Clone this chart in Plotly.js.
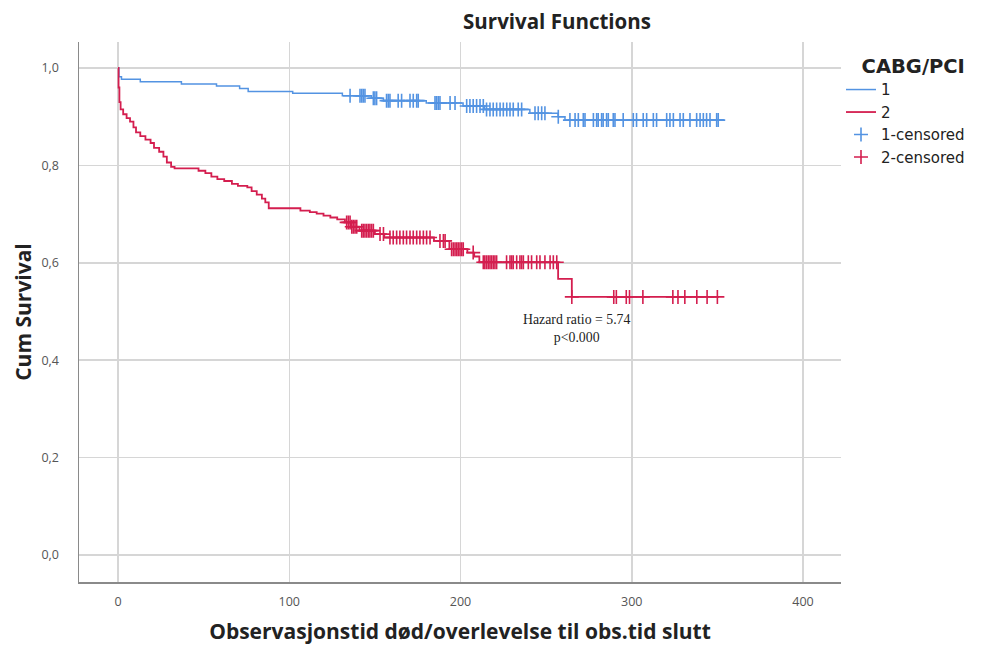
<!DOCTYPE html>
<html>
<head>
<meta charset="utf-8">
<script src="https://cdn.plot.ly/plotly-3.0.1.min.js"></script>
<style>html,body{margin:0;padding:0;background:#fff;}#chart{width:981px;height:648px;}</style>
</head>
<body>
<div id="chart"></div>
<script>
// Group 1 (CABG) Kaplan-Meier step curve
const g1Time = [0, 0.5, 2, 13, 37, 57.5, 71, 76, 102, 131, 148, 155, 180, 201.5, 214, 240.5, 257, 261, 354];
const g1Surv = [1.0, 0.982, 0.977, 0.972, 0.967, 0.963, 0.958, 0.952, 0.948, 0.943, 0.938, 0.933, 0.928, 0.922, 0.915, 0.907, 0.900, 0.893, 0.893];
// Group 1 censored times
const g1Cens = [135.5, 141.3, 142.3, 143.2, 144.2, 149.1, 150, 151, 156.8, 157.8, 158.8, 163.6, 165.6,
  170.5, 172.4, 174.4, 175.3, 185.1, 186, 187, 188, 193.9, 196.8, 203.6, 205.5, 207.4, 209.4, 211.4, 213.3,
  215.2, 217.2, 219.1, 221.1, 223.1, 225, 227, 228.9, 230.8, 233.7, 235.7, 243.5, 245.4, 247.4, 249.3, 257.1,
  263.9, 266.9, 268.8, 271.7, 272.7, 277.6, 279.5, 280.4, 282.4, 283.3, 285.3, 286.3, 289.2, 290.2, 295,
  300.9, 302.8, 306.7, 308.7, 312.6, 314.5, 320.4, 322.3, 324.3, 328.2, 330.1, 334, 337.9, 339.9, 341.8,
  343.7, 345.7, 349.6, 350.5];

// Group 2 (PCI) Kaplan-Meier step curve
const g2Time = [0, 0.3, 0.8, 1.5, 3, 5, 7, 9, 10.5, 13, 16, 19, 21, 24, 26.5, 28.5, 31, 33, 47, 51, 54.5, 58, 62,
  66.5, 70, 75.5, 78, 81, 84, 86, 88, 106.5, 112, 116, 120, 124, 128, 132.5, 136, 141, 150, 155.5, 184.5,
  193.5, 204, 208, 211, 257, 265, 351];
const g2Surv = [1.0, 0.96, 0.93, 0.915, 0.905, 0.897, 0.89, 0.878, 0.868, 0.86, 0.853, 0.846, 0.836, 0.828, 0.818,
  0.806, 0.797, 0.794, 0.789, 0.784, 0.777, 0.772, 0.768, 0.762, 0.758, 0.755, 0.747, 0.74, 0.732, 0.724, 0.712,
  0.707, 0.704, 0.701, 0.697, 0.693, 0.689, 0.683, 0.674, 0.666, 0.659, 0.652, 0.645, 0.628, 0.621, 0.613,
  0.601, 0.567, 0.530, 0.530];
// Group 2 censored times
const g2Cens = [133.5, 134.5, 135.5, 136.5, 137.4, 138.4, 139.4, 142.3, 143.2, 144.2, 145.2, 146.2, 147.1, 148.1,
  149.1, 153, 155, 158.8, 160.7, 162.7, 164.6, 166.6, 168.5, 170.5, 172.4, 174.4, 176.3, 178.3, 180.2, 182.2,
  188, 190, 191, 194.8, 195.8, 196.8, 197.8, 198.7, 199.7, 200.7, 201.6, 207.4, 213.3, 214.2, 215.2, 216.2,
  217.2, 218.1, 219.1, 220.1, 221.1, 226.9, 228.9, 229.9, 230.8, 232.8, 234.7, 235.7, 236.7, 239.6, 241.5,
  244.5, 246.4, 249.3, 252.3, 254.2, 256.2, 265, 289.5, 291, 296.8, 298.7, 306.5, 324, 327, 331, 338, 344, 350];

const legendNames = ["1", "2", "1-censored", "2-censored"];
const blue = "#5393E2", red = "#D41E4F";

function stepLookup(times, surv, t) {
  let v = surv[0];
  for (let i = 0; i < times.length; i++) { if (times[i] <= t) v = surv[i]; else break; }
  return v;
}

const traces = [
  {x: g1Time, y: g1Surv, type: "scatter", mode: "lines", line: {shape: "hv", color: blue, width: 1.5}, name: legendNames[0]},
  {x: g2Time, y: g2Surv, type: "scatter", mode: "lines", line: {shape: "hv", color: red, width: 1.8}, name: legendNames[1]},
  {x: g1Cens, y: g1Cens.map(t => stepLookup(g1Time, g1Surv, t)), type: "scatter", mode: "markers",
   marker: {symbol: "cross-thin", size: 10, color: blue, line: {color: blue, width: 1.6}}, name: legendNames[2]},
  {x: g2Cens, y: g2Cens.map(t => stepLookup(g2Time, g2Surv, t)), type: "scatter", mode: "markers",
   marker: {symbol: "cross-thin", size: 10, color: red, line: {color: red, width: 1.6}}, name: legendNames[3]}
];

const tickVals = [0, 0.2, 0.4, 0.6, 0.8, 1.0];
const tickText = ["0,0", "0,2", "0,4", "0,6", "0,8", "1,0"];

const layout = {
  width: 981, height: 648,
  margin: {l: 79, r: 140, t: 42, b: 66, autoexpand: false},
  paper_bgcolor: "#fff", plot_bgcolor: "#fff",
  font: {family: "Open Sans, sans-serif", color: "#333"},
  title: {text: "<b>Survival Functions</b>", x: 557/981, xref: "container", xanchor: "center",
          y: 1 - 22/648, yref: "container", yanchor: "middle", font: {size: 20.5, color: "#222"}},
  xaxis: {
    range: [-22.8, 422.2], tickvals: [0, 100, 200, 300, 400], ticks: "outside", ticklen: 7,
    tickcolor: "rgba(0,0,0,0)", showgrid: true, gridcolor: "#d6d6d6", gridwidth: 1.5, zeroline: false,
    showline: true, linecolor: "#8a8a8a", linewidth: 1.5, tickfont: {size: 12.5, color: "#555"},
    title: {text: "<b>Observasjonstid død/overlevelse til obs.tid slutt</b>", standoff: 16, font: {size: 21, color: "#222"}}
  },
  yaxis: {
    range: [-0.0554, 1.0534], tickvals: tickVals, ticktext: tickText, ticks: "outside", ticklen: 16,
    tickcolor: "rgba(0,0,0,0)", showgrid: true, gridcolor: "#d6d6d6", gridwidth: 1.5, zeroline: false,
    showline: true, linecolor: "#8a8a8a", linewidth: 1.5, tickfont: {size: 12.5, color: "#555"},
    title: {text: "<b>Cum Survival</b>", standoff: 4, font: {size: 21, color: "#222"}}
  },
  showlegend: true,
  legend: {x: 1.0, xanchor: "left", y: 0.989, yanchor: "top", bgcolor: "rgba(0,0,0,0)",
           title: {text: "&nbsp;&nbsp;&nbsp;<b>CABG/PCI</b>", font: {size: 19.5, color: "#222"}},
           font: {family: "DejaVu Sans, sans-serif", size: 15, color: "#222"}, tracegroupgap: 0},
  annotations: [{
    x: 268, y: 0.466, xref: "x", yref: "y", showarrow: false,
    text: "Hazard ratio = 5.74<br>p&lt;0.000", align: "center",
    font: {family: "Liberation Serif, serif", size: 13.8, color: "#222"}
  }]
};

Plotly.newPlot("chart", traces, layout, {displayModeBar: false, staticPlot: true});
</script>
</body>
</html>
